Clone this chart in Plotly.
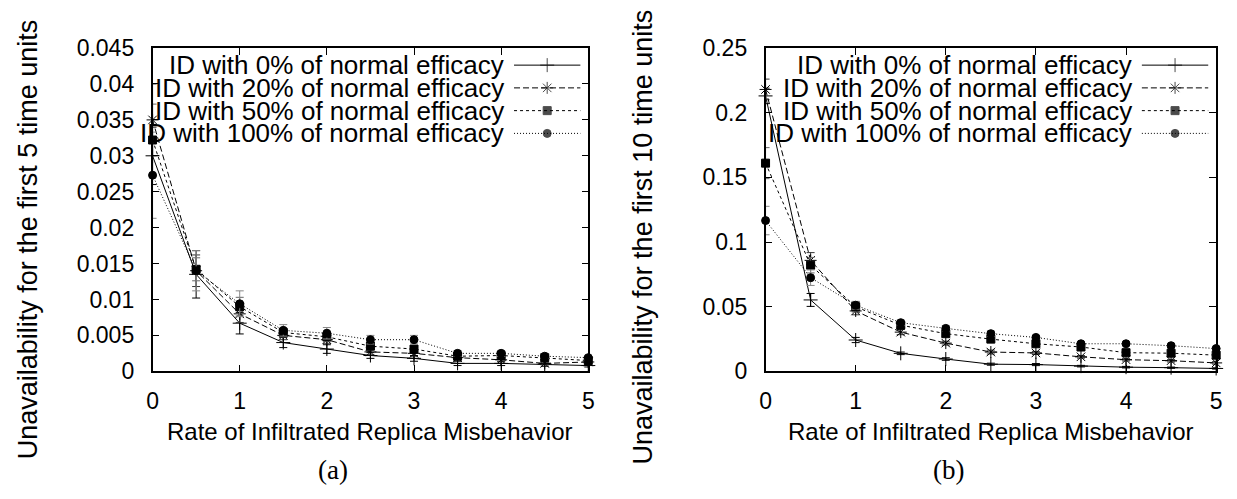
import plotly.graph_objects as go

# ---------------- data ----------------
x_rate = [0, 0.5, 1, 1.5, 2, 2.5, 3, 3.5, 4, 4.5, 5]

series_names = ["ID with 0% of normal efficacy", "ID with 20% of normal efficacy",
                "ID with 50% of normal efficacy", "ID with 100% of normal efficacy"]

# (a) first 5 time units
a_0 = [0.0300, 0.0135, 0.0067, 0.0040, 0.0031, 0.0022, 0.0018, 0.0011, 0.0011, 0.0010, 0.0008]
a_20 = [0.0350, 0.0140, 0.0080, 0.0050, 0.0044, 0.0027, 0.0025, 0.0019, 0.0016, 0.0011, 0.0013]
a_50 = [0.0322, 0.0142, 0.0090, 0.0054, 0.0048, 0.0035, 0.0031, 0.0021, 0.0022, 0.0019, 0.0015]
a_100 = [0.0273, 0.0140, 0.0094, 0.0057, 0.0053, 0.0044, 0.0044, 0.0025, 0.0025, 0.0021, 0.0019]
ea_0 = [0.0040, 0.0033, 0.0015, 0.0007, 0.0006, 0.0004, 0.0004, 0.0003, 0.0003, 0.0003, 0.0002]
ea_20 = [0.0050, 0.0022, 0.0012, 0.0006, 0.0005, 0.0004, 0.0004, 0.0003, 0.0003, 0.0002, 0.0002]
ea_50 = [0.0050, 0.0016, 0.0013, 0.0006, 0.0006, 0.0005, 0.0004, 0.0003, 0.0003, 0.0003, 0.0002]
ea_100 = [0.0060, 0.0028, 0.0018, 0.0008, 0.0008, 0.0006, 0.0006, 0.0004, 0.0004, 0.0003, 0.0003]

# (b) first 10 time units
b_0 = [0.213, 0.0552, 0.0242, 0.0139, 0.0095, 0.0055, 0.0052, 0.0040, 0.0032, 0.0028, 0.0022]
b_20 = [0.218, 0.0858, 0.0467, 0.0303, 0.0218, 0.0149, 0.0142, 0.0112, 0.0090, 0.0082, 0.0065]
b_50 = [0.161, 0.0821, 0.0499, 0.0357, 0.0291, 0.0249, 0.0213, 0.0188, 0.0144, 0.0140, 0.0125]
b_100 = [0.1166, 0.0724, 0.0511, 0.0376, 0.0332, 0.0291, 0.0262, 0.0213, 0.0213, 0.0198, 0.0176]
eb_0 = [0.006, 0.005, 0.002, 0.001, 0.001, 0.0008, 0.0008, 0.0006, 0.0006, 0.0005, 0.0005]
eb_20 = [0.008, 0.006, 0.003, 0.002, 0.0015, 0.0015, 0.0012, 0.001, 0.001, 0.001, 0.001]
eb_50 = [0.012, 0.006, 0.004, 0.002, 0.002, 0.002, 0.0015, 0.0015, 0.0012, 0.0012, 0.001]
eb_100 = [0.011, 0.006, 0.003, 0.002, 0.002, 0.002, 0.0015, 0.0015, 0.0012, 0.0012, 0.001]

a_ticks = [0, 0.005, 0.01, 0.015, 0.02, 0.025, 0.03, 0.035, 0.04, 0.045]
a_ticktext = ["0", "0.005", "0.01", "0.015", "0.02", "0.025", "0.03", "0.035", "0.04", "0.045"]
b_ticks = [0, 0.05, 0.1, 0.15, 0.2, 0.25]
b_ticktext = ["0", "0.05", "0.1", "0.15", "0.2", "0.25"]
x_ticks = [0, 1, 2, 3, 4, 5]

ylabel_a = "Unavailability for the first 5 time units"
ylabel_b = "Unavailability for the first 10 time units"
xlabel = "Rate of Infiltrated Replica Misbehavior"

# ---------------- styles ----------------
W, H = 1237, 499
FONT = "Liberation Sans, Arial, Helvetica, sans-serif"
styles = [
    dict(dash="solid", symbol="cross-thin", size=10, ecol="#000000"),
    dict(dash="6px,3px", symbol="asterisk", size=10, ecol="#333333"),
    dict(dash="3px,3px", symbol="square", size=8, ecol="#666666"),
    dict(dash="1px,2px", symbol="circle", size=8, ecol="#888888"),
]

# plot areas in pixels
A = dict(x0=148, x1=588)
B = dict(x0=767, x1=1222)
Y0, Y1 = 378, 37  # bottom, top pixel


def px_dom(p0, p1):
    return [p0 / W, p1 / W]


ydom = [(H - Y0) / H, (H - Y1) / H]

fig = go.Figure()


def add_series(xa, ya, vals, errs):
    for v, e, st in zip(vals, errs, styles):
        fig.add_trace(go.Scatter(
            x=x_rate, y=v, xaxis=xa, yaxis=ya, mode="lines+markers",
            line=dict(color="black", width=1, dash=st["dash"]),
            marker=dict(symbol=st["symbol"], size=st["size"], color="black",
                        line=dict(color="black", width=1)),
            error_y=dict(type="data", array=e, visible=True, color=st["ecol"],
                         thickness=1, width=4),
            cliponaxis=False, showlegend=False, hoverinfo="skip"))


add_series("x", "y", [a_0, a_20, a_50, a_100], [ea_0, ea_20, ea_50, ea_100])
add_series("x2", "y2", [b_0, b_20, b_50, b_100], [eb_0, eb_20, eb_50, eb_100])

# ---------------- custom legends (text left, sample right) ----------------
row_px = [55, 79, 103, 127]
LEG_FONT = 26


def add_legend(xa, ya, area):
    wpx = area["x1"] - area["x0"]
    t_right = 1 - 83 / wpx
    s0 = 1 - 75 / wpx
    s1 = 1 - 8 / wpx
    for name, st, rp in zip(series_names, styles, row_px):
        fy = (Y0 - rp) / (Y0 - Y1)
        fig.add_trace(go.Scatter(
            x=[s0, (s0 + s1) / 2, s1], y=[fy, fy, fy], xaxis=xa, yaxis=ya,
            mode="lines+markers",
            line=dict(color="black", width=1, dash=st["dash"]),
            marker=dict(symbol=st["symbol"], size=[0, st["size"], 0], color="black",
                        line=dict(color="black", width=1)),
            cliponaxis=False, showlegend=False, hoverinfo="skip"))
        fig.add_annotation(x=t_right, y=fy, xref=xa, yref=ya, text=name,
                           showarrow=False, xanchor="right", yanchor="middle",
                           font=dict(family=FONT, size=LEG_FONT, color="black"))


add_legend("x3", "y3", A)
add_legend("x4", "y4", B)

axis_common = dict(showline=True, linecolor="black", linewidth=1.5, mirror="ticks",
                   ticks="inside", ticklen=7, tickwidth=1, tickcolor="black",
                   showgrid=False, zeroline=False,
                   tickfont=dict(family=FONT, size=23, color="black"))

fig.update_layout(
    width=W, height=H, margin=dict(l=0, r=0, t=0, b=0),
    paper_bgcolor="white", plot_bgcolor="rgba(0,0,0,0)",
    xaxis=dict(domain=px_dom(A["x0"], A["x1"]), range=[0, 5], tickvals=x_ticks,
               anchor="y", ticklabelstandoff=8, **axis_common),
    yaxis=dict(domain=ydom, range=[0, 0.045], tickvals=a_ticks, ticktext=a_ticktext,
               anchor="x", ticklabelstandoff=12, **axis_common),
    xaxis2=dict(domain=px_dom(B["x0"], B["x1"]), range=[0, 5], tickvals=x_ticks,
                anchor="y2", ticklabelstandoff=8, **axis_common),
    yaxis2=dict(domain=ydom, range=[0, 0.25], tickvals=b_ticks, ticktext=b_ticktext,
                anchor="x2", ticklabelstandoff=12, **axis_common),
    xaxis3=dict(domain=px_dom(A["x0"], A["x1"]), range=[0, 1], visible=False,
                anchor="y3", overlaying="x"),
    yaxis3=dict(domain=ydom, range=[0, 1], visible=False, anchor="x3", overlaying="y"),
    xaxis4=dict(domain=px_dom(B["x0"], B["x1"]), range=[0, 1], visible=False,
                anchor="y4", overlaying="x2"),
    yaxis4=dict(domain=ydom, range=[0, 1], visible=False, anchor="x4", overlaying="y2"),
)

# axis titles and sub-captions as paper annotations
for txt, cx, cy in [(ylabel_a, 22, 239), (ylabel_b, 643, 236)]:
    fig.add_annotation(x=cx / W, y=1 - cy / H, xref="paper", yref="paper", text=txt,
                       textangle=-90, showarrow=False, xanchor="center", yanchor="middle",
                       font=dict(family=FONT, size=27, color="black"))
for area in (A, B):
    fig.add_annotation(x=(area["x0"] + area["x1"]) / 2 / W, y=1 - 441 / H,
                       xref="paper", yref="paper", text=xlabel, showarrow=False,
                       xanchor="center", yanchor="middle",
                       font=dict(family=FONT, size=24, color="black"))
for txt, cx in [("(a)", 330), ("(b)", 952)]:
    fig.add_annotation(x=cx / W, y=1 - 482 / H, xref="paper", yref="paper", text=txt,
                       showarrow=False, xanchor="center", yanchor="middle",
                       font=dict(family="Liberation Serif, DejaVu Serif, serif", size=27,
                                 color="black"))

fig.write_html("out.html")
